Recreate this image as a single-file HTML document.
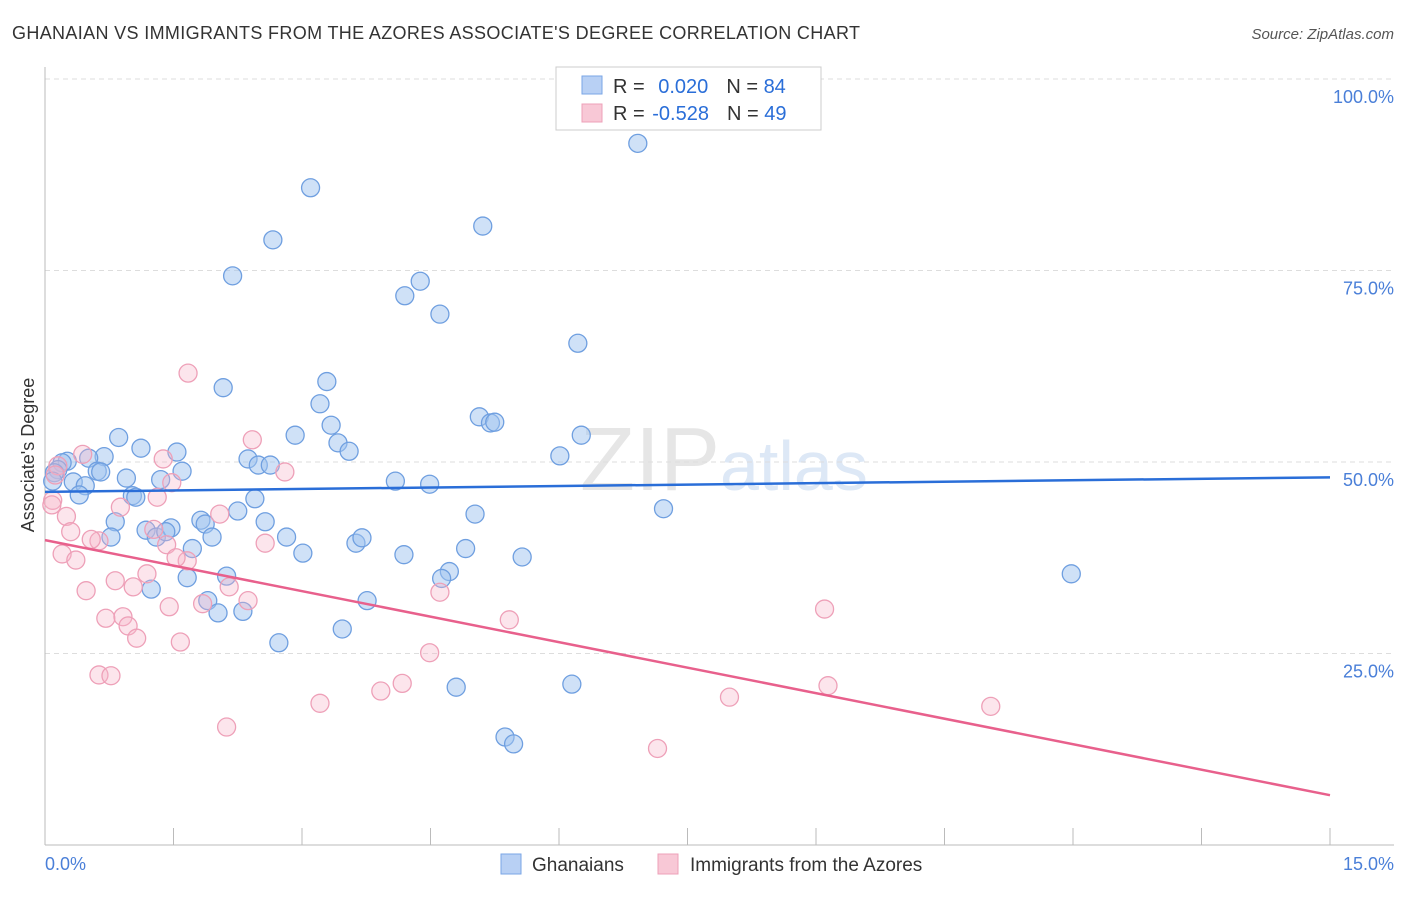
<!DOCTYPE html>
<html><head><meta charset="utf-8"><style>
body{margin:0;background:#fff;font-family:"Liberation Sans",sans-serif}
svg text{font-family:"Liberation Sans",sans-serif}
</style></head><body>
<svg id="c" width="1406" height="892" xmlns="http://www.w3.org/2000/svg">
<text x="12" y="39" font-size="18" fill="#333" textLength="848">GHANAIAN VS IMMIGRANTS FROM THE AZORES ASSOCIATE'S DEGREE CORRELATION CHART</text>
<text x="1394" y="39" font-size="15" fill="#555" font-style="italic" text-anchor="end">Source: ZipAtlas.com</text>
<text x="720" y="490" font-size="90" fill="#e6e6e6" text-anchor="end" font-family="Liberation Serif">ZIP</text>
<text x="720" y="490" font-size="70" fill="#dde8f6">atlas</text>
<g id="grid"></g><g id="pts"></g><g id="lines"></g>
<text transform="translate(34,455) rotate(-90)" font-size="18" fill="#333" text-anchor="middle">Associate's Degree</text>
<text x="45" y="870" font-size="18" fill="#4a7fd8">0.0%</text>
<text x="1394" y="870" font-size="18" fill="#4a7fd8" text-anchor="end">15.0%</text>
<g>
<rect x="556" y="67" width="265" height="63" fill="#fff" stroke="#ccc"/>
<rect x="582" y="76" width="20" height="18" fill="#b8d0f4" stroke="#7aa6e6"/>
<rect x="582" y="104" width="20" height="18" fill="#f8c8d6" stroke="#eea0b8"/>
<text x="613" y="93" font-size="20" fill="#333">R = <tspan fill="#2a6ed8" dx="8">0.020</tspan><tspan dx="18" fill="#333">N = </tspan><tspan fill="#2a6ed8">84</tspan></text>
<text x="613" y="120" font-size="20" fill="#333">R = <tspan fill="#2a6ed8" dx="2">-0.528</tspan><tspan dx="18" fill="#333">N = </tspan><tspan fill="#2a6ed8">49</tspan></text>
</g>
<g>
<rect x="501" y="854" width="20" height="20" fill="#b8d0f4" stroke="#7aa6e6"/>
<text x="532" y="871" font-size="19" fill="#333">Ghanaians</text>
<rect x="658" y="854" width="20" height="20" fill="#f8c8d6" stroke="#eea0b8"/>
<text x="690" y="871" font-size="19" fill="#333">Immigrants from the Azores</text>
</g>
</svg>
<script>
const blueX=[6.92,3.10,5.11,2.66,2.19,4.38,4.20,4.61,6.22,2.08,3.29,3.21,5.07,5.20,5.25,3.34,3.42,3.55,2.92,0.86,1.12,1.54,6.01,6.26,2.37,2.49,2.63,0.69,0.51,0.26,0.20,0.15,0.11,0.09,0.33,0.47,0.40,0.61,0.65,0.95,1.35,1.60,4.09,4.49,1.02,1.06,2.45,2.25,1.82,1.87,2.57,0.82,1.47,1.18,1.30,1.41,0.77,1.95,2.82,3.63,3.70,5.02,7.22,1.72,3.01,4.19,4.91,5.57,4.72,4.63,1.66,2.12,1.24,1.90,2.02,2.31,3.76,3.47,2.73,11.98,4.80,6.15,5.37,5.47];
const blueY=[91.6,85.8,80.8,79.0,74.3,73.6,71.7,69.3,65.5,59.7,60.5,57.6,55.9,55.1,55.2,54.8,52.5,51.4,53.5,53.2,51.8,51.3,50.8,53.5,50.4,49.6,49.6,50.7,50.5,50.1,49.9,49.0,48.6,47.5,47.4,46.9,45.7,48.8,48.7,47.9,47.7,48.8,47.5,47.1,45.6,45.4,45.2,43.6,42.4,41.9,42.2,42.2,41.4,41.1,40.2,40.9,40.2,40.2,40.2,39.4,40.1,43.2,43.9,38.7,38.1,37.9,38.7,37.6,35.7,34.8,34.9,35.1,33.4,31.9,30.3,30.5,31.9,28.2,26.4,35.4,20.6,21.0,14.1,13.2];
const pinkX=[1.67,2.42,2.80,1.38,0.44,0.15,0.12,0.09,0.08,0.25,0.30,0.20,0.36,0.63,0.54,0.88,1.31,1.48,1.27,1.42,1.66,2.04,2.57,1.19,0.82,1.03,0.48,1.53,2.15,1.84,2.37,1.45,0.71,0.91,0.97,1.07,1.58,0.63,0.77,4.61,5.42,9.10,4.49,4.17,3.92,3.21,2.12,7.99,9.14,11.04,7.15];
const pinkY=[61.6,52.9,48.7,50.4,51.0,49.5,48.3,45.0,44.4,42.9,40.9,38.0,37.2,39.7,39.9,44.1,45.4,47.3,41.2,39.2,37.1,43.2,39.4,35.4,34.5,33.7,33.2,37.5,33.7,31.5,31.9,31.1,29.6,29.8,28.6,27.0,26.5,22.2,22.1,33.0,29.4,30.8,25.1,21.1,20.1,18.5,15.4,19.3,20.8,18.1,12.6];
// trend line endpoints (value at 0% and at 15%)
const blueTrend=[46.1,48.0];
const pinkTrend=[39.8,6.5];
const x0=45,x1=1330,yb=845,yt=79;
const X=v=>x0+v/15*(x1-x0), Y=v=>yb-v/100*(yb-yt);
const NS='http://www.w3.org/2000/svg';
function mk(tag,attrs,parent){const e=document.createElementNS(NS,tag);for(const k in attrs)e.setAttribute(k,attrs[k]);document.getElementById(parent).appendChild(e);return e;}
const yTicks=[25,50,75,100];
yTicks.forEach(t=>{
 const l=mk('line',{x1:45,x2:1394,y1:Y(t),y2:Y(t),stroke:'#ddd','stroke-dasharray':'5,4'},'grid');
 
 
 const tx=mk('text',{x:1394,y:Y(t)+24,'font-size':18,fill:'#4a7fd8','text-anchor':'end'},'grid');
 tx.textContent=t.toFixed(1)+'%';
 
 
});
const ya=mk('line',{x1:45,x2:45,y1:67,y2:845,stroke:'#bbb'},'grid');


const xa=mk('line',{x1:45,x2:1394,y1:845,y2:845,stroke:'#bbb'},'grid');


for(let i=0;i<=10;i++){
 const t=mk('line',{x1:X(i*1.5),x2:X(i*1.5),y1:828,y2:845,stroke:'#bbb'},'grid');
 
 
}
blueX.forEach((v,i)=>{
 const c=mk('circle',{cx:X(v),cy:Y(blueY[i]),r:9,fill:'rgba(160,195,240,0.5)',stroke:'#6f9fe0','stroke-width':1.3},'pts');
 
 
});
pinkX.forEach((v,i)=>{
 const c=mk('circle',{cx:X(v),cy:Y(pinkY[i]),r:9,fill:'rgba(245,180,200,0.35)',stroke:'#eea0b8','stroke-width':1.3},'pts');
 
 
});
const bl=mk('line',{x1:X(0),y1:Y(blueTrend[0]),x2:X(15),y2:Y(blueTrend[1]),stroke:'#2a6ed8','stroke-width':2.5},'lines');


const pl=mk('line',{x1:X(0),y1:Y(pinkTrend[0]),x2:X(15),y2:Y(pinkTrend[1]),stroke:'#e8608c','stroke-width':2.5},'lines');


</script>
</body></html>
